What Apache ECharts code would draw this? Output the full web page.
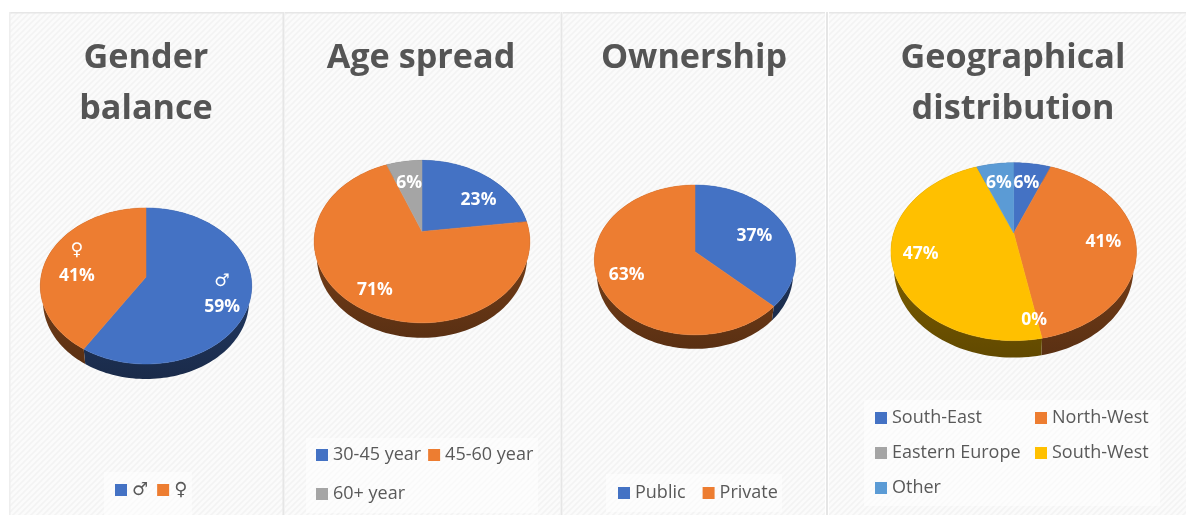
<!DOCTYPE html>
<html>
<head>
<meta charset="utf-8">
<style>html,body{margin:0;padding:0;background:#fff}#chart{width:1186px;height:515px}</style>
<script src="https://cdn.jsdelivr.net/npm/echarts@6/dist/echarts.min.js"></script>
</head>
<body>
<div id="chart"></div>
<script>
// Survey respondents: four tilted pies, values in percent.
const genderNames = ['♂', '♀'];
const genderValues = [59, 41];
const ageNames = ['30-45 year', '45-60 year', '60+ year'];
const ageValues = [23, 71, 6];
const ownershipNames = ['Public', 'Private'];
const ownershipValues = [37, 63];
const geoNames = ['South-East', 'North-West', 'Eastern Europe', 'South-West', 'Other'];
const geoValues = [6, 41, 0, 47, 6];

const BLUE = '#4472c4', ORANGE = '#ed7d31', GREY = '#a5a5a5', YELLOW = '#ffc000', SKY = '#5b9bd5';
const INK = '#595959';
const FONT = '"Open Sans","DejaVu Sans",sans-serif';

// cx/cy: pie apex; a/b: plane radii; k: perspective strength; depth: wall height.
// labels: pixel nudge applied to each slice label after its radial placement.
const pies = [
  { names: genderNames, values: genderValues, colors: [BLUE, ORANGE],
    cx: 146, cy: 277, a: 105, b: 77, k: 0.115, depth: 15,
    labels: [[4, 2], [0, 1]], showName: true },
  { names: ageNames, values: ageValues, colors: [BLUE, ORANGE, GREY],
    cx: 422, cy: 231.5, a: 107, b: 80, k: 0.124, depth: 15,
    labels: [[10, 8], [-6, 6], [0, 2]] },
  { names: ownershipNames, values: ownershipValues, colors: [BLUE, ORANGE],
    cx: 695, cy: 251.7, a: 100, b: 74, k: 0.11, depth: 14,
    labels: [[-3, 4], [-2, 2]] },
  { names: geoNames, values: geoValues, colors: [BLUE, ORANGE, GREY, YELLOW, SKY],
    cx: 1013.7, cy: 233, a: 120, b: 85, k: 0.21, depth: 17,
    labels: [[-1, 1], [5, 3], [2, 19], [-9, 4], [-1, 1]] }
];

// Darken a #rrggbb colour by a factor.
function shade(hex, f) {
  const n = parseInt(hex.slice(1), 16);
  const c = [n >> 16, (n >> 8) & 255, n & 255].map(v => Math.round(v * f));
  return 'rgb(' + c.join(',') + ')';
}

// Project a point on the unit disc (clockwise angle from the top, radius r) to the screen.
function project(p, angle, r) {
  const u = Math.sin(angle) * r, v = Math.cos(angle) * r;
  const w = 1 + p.k * v;
  return [p.cx + p.a * u / w, p.cy - p.b * v / w];
}

function sliceSeries(p, i) {
  const before = p.values.slice(0, i).reduce((s, v) => s + v, 0);
  const total = p.values.reduce((s, v) => s + v, 0);
  const color = p.colors[i];
  return {
    type: 'custom',
    name: p.names[i],
    coordinateSystem: 'none',
    animation: false,
    itemStyle: { color },
    data: [[p.values[i]]],
    renderItem(params, api) {
      const value = api.value(0);
      const start = before / total * 2 * Math.PI;
      const sweep = value / total * 2 * Math.PI;
      const steps = Math.max(1, Math.ceil(sweep / 0.03));
      const arc = [];
      for (let s = 0; s <= steps; s++) arc.push(project(p, start + sweep * s / steps, 1));
      const children = [];
      if (value > 0) {
        // The underside sits further from the viewer, so it is slightly narrower.
        const lowered = arc.map(q => [p.cx + (q[0] - p.cx) * 0.975, q[1] + p.depth]).reverse();
        children.push({
          type: 'polygon', z2: 1,
          shape: { points: arc.concat(lowered) },
          style: { fill: new echarts.graphic.LinearGradient(0, 0, 0, 1, [
            { offset: 0, color: shade(color, 0.6) },
            { offset: 1, color: shade(color, 0.38) }
          ]) }
        });
        children.push({
          type: 'polygon', z2: 2,
          shape: { points: [[p.cx, p.cy]].concat(arc) },
          style: { fill: color, stroke: color, lineWidth: 0.5 }
        });
      }
      const spot = project(p, start + sweep / 2, 0.7);
      const nudge = p.labels[i];
      children.push({
        type: 'text', z2: 3,
        x: spot[0] + nudge[0], y: spot[1] + nudge[1],
        style: {
          text: (p.showName ? p.names[i] + '\n' : '') + value + '%',
          fill: '#fff', font: 'bold 17.5px ' + FONT, lineHeight: 26,
          align: 'center', verticalAlign: 'middle'
        }
      });
      return { type: 'group', children };
    }
  };
}

const series = [];
pies.forEach(p => p.names.forEach((n, i) => series.push(sliceSeries(p, i))));

const titleSpec = [
  ['Gender\nbalance', 146], ['Age spread', 421], ['Ownership', 694], ['Geographical\ndistribution', 1013]
];
const title = titleSpec.map(([text, left]) => ({
  text, left, top: 33, textAlign: 'center', padding: 0,
  textStyle: { color: '#555555', fontFamily: FONT, fontSize: 34.2, fontWeight: 700, lineHeight: 51 }
}));

function legendRow(data, left, top, itemGap, orient) {
  return {
    data, left, top, itemGap, orient: orient || 'horizontal', padding: 0,
    icon: 'rect', itemWidth: 12, itemHeight: 12,
    textStyle: { color: INK, fontFamily: FONT, fontSize: 18, padding: [0, 0, 0, 0] }
  };
}
const legend = [
  legendRow(genderNames, 115, 481, 9),
  legendRow(ageNames.slice(0, 2), 316, 446, 7),
  legendRow(ageNames.slice(2), 316, 485, 7),
  legendRow(ownershipNames, 618, 484, 17),
  legendRow([geoNames[0], geoNames[2], geoNames[4]], 875, 409, 17, 'vertical'),
  legendRow([geoNames[1], geoNames[3]], 1035, 409, 17, 'vertical')
];

// Fine diagonal hatch used on the panels.
const tile = document.createElement('canvas');
tile.width = tile.height = 6;
const ctx = tile.getContext('2d');
ctx.fillStyle = '#fbfbfb';
ctx.fillRect(0, 0, 6, 6);
ctx.strokeStyle = '#f3f3f3';
ctx.lineWidth = 1.6;
[[-6, 6, 6, -6], [0, 6, 6, 0], [0, 12, 12, 0]].forEach(s => {
  ctx.beginPath(); ctx.moveTo(s[0], s[1]); ctx.lineTo(s[2], s[3]); ctx.stroke();
});
const hatch = { image: tile, repeat: 'repeat' };

const panelSpans = [[10, 283], [285, 560], [563, 825], [829, 1186]];
const whiteBoxes = [[104, 472, 88, 43], [306, 438, 232, 75], [606, 474, 176, 38], [864, 400, 296, 106]];
const graphic = [];
panelSpans.forEach(([x0, x1]) => {
  graphic.push({ type: 'rect', z: -10, silent: true,
    shape: { x: x0, y: 13, width: x1 - x0, height: 502 }, style: { fill: hatch } });
  graphic.push({ type: 'rect', z: -9, silent: true,
    shape: { x: x0, y: 12, width: x1 - x0, height: 1.5 }, style: { fill: '#e6e6e6' } });
});
[283.5, 561.5, 827].forEach(x => graphic.push({ type: 'rect', z: -9, silent: true,
  shape: { x: x - 1, y: 12, width: 2, height: 503 }, style: { fill: '#e6e6e6' } }));
graphic.push({ type: 'rect', z: -9, silent: true,
  shape: { x: 9, y: 12, width: 1.5, height: 503 }, style: { fill: '#eeeeee' } });
whiteBoxes.forEach(([x, y, width, height]) => graphic.push({ type: 'rect', z: -8, silent: true,
  shape: { x, y, width, height }, style: { fill: 'rgba(255,255,255,0.5)' } }));

const chart = echarts.init(document.getElementById('chart'), null, { renderer: 'canvas' });
chart.setOption({ backgroundColor: '#fff', animation: false, title, legend, graphic, series });
</script>
</body>
</html>
